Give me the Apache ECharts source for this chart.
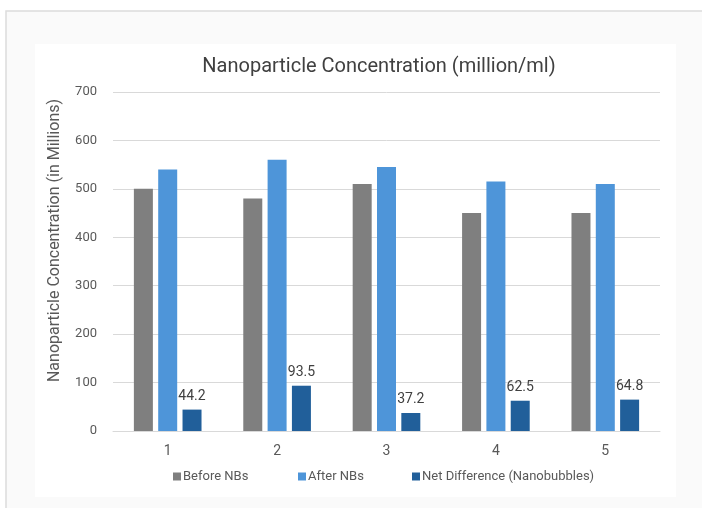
<!DOCTYPE html>
<html>
<head>
<meta charset="utf-8">
<script src="https://cdn.jsdelivr.net/npm/echarts@6/dist/echarts.min.js"></script>
<style>
  html, body { margin: 0; padding: 0; background: #ffffff; }
  #chart { width: 702px; height: 508px; }
</style>
</head>
<body>
<div id="chart"></div>
<script>
// Sample runs and measured concentrations (million/ml)
const categories = ['1', '2', '3', '4', '5'];
const beforeNBs = [500, 480, 510, 450, 450];
const afterNBs = [540, 560, 545, 515, 510];
const netDifference = [44.2, 93.5, 37.2, 62.5, 64.8];
const seriesNames = ['Before NBs', 'After NBs', 'Net Difference (Nanobubbles)'];
const yTicks = { min: 0, max: 700, interval: 100 };

const FONT = 'Roboto, "Liberation Sans", sans-serif';
const colors = ['#7f7f7f', '#4e95d9', '#215f9a'];

const chart = echarts.init(document.getElementById('chart'), null, { renderer: 'canvas' });

function legendFor(name, left) {
  return {
    data: [name],
    left: left,
    top: 465,
    icon: 'rect',
    itemWidth: 8,
    itemHeight: 8,
    itemGap: 0,
    selectedMode: false,
    textStyle: { color: '#595959', fontSize: 13, fontFamily: FONT, padding: [0, 0, 0, -3] }
  };
}

chart.setOption({
  animation: false,
  backgroundColor: '#ffffff',
  color: colors,
  graphic: [
    // outer frame and inner chart panel
    { type: 'rect', z: -10, silent: true, shape: { x: 6, y: 11, width: 720, height: 520 },
      style: { fill: '#fafafa', stroke: '#dcdcdc', lineWidth: 1.5 } },
    { type: 'rect', z: -9, silent: true, shape: { x: 35, y: 44, width: 641, height: 453 },
      style: { fill: '#ffffff' } }
  ],
  title: {
    text: 'Nanoparticle Concentration (million/ml)',
    left: 374,
    top: 52,
    textAlign: 'center',
    textStyle: { color: '#404040', fontSize: 20, fontWeight: 'normal', fontFamily: FONT }
  },
  legend: [
    legendFor(seriesNames[0], 168),
    legendFor(seriesNames[1], 293),
    legendFor(seriesNames[2], 407)
  ],
  grid: { left: 113, right: 42, top: 92, bottom: 77, containLabel: false },
  xAxis: {
    type: 'category',
    data: categories,
    axisLine: { lineStyle: { color: '#d9d9d9', width: 1 } },
    axisTick: { show: false },
    axisLabel: { color: '#595959', fontSize: 14, fontFamily: FONT, margin: 13 }
  },
  yAxis: {
    type: 'value',
    min: yTicks.min,
    max: yTicks.max,
    interval: yTicks.interval,
    name: 'Nanoparticle Concentration (in Millions)',
    nameLocation: 'middle',
    nameRotate: 90,
    nameGap: 50,
    nameTextStyle: { color: '#595959', fontSize: 16, fontFamily: FONT, padding: [0, 0, 0, 42] },
    axisLine: { show: false },
    axisTick: { show: false },
    splitLine: { lineStyle: { color: '#d9d9d9', width: 1 } },
    axisLabel: { color: '#595959', fontSize: 13, fontFamily: FONT, margin: 16 }
  },
  series: [
    { name: seriesNames[0], type: 'bar', data: beforeNBs, barWidth: 19, barGap: '28%', barCategoryGap: '38%' },
    { name: seriesNames[1], type: 'bar', data: afterNBs, barWidth: 19, barGap: '28%' },
    { name: seriesNames[2], type: 'bar', data: netDifference, barWidth: 19, barGap: '28%',
      label: { show: true, position: 'top', distance: 6, color: '#404040', fontSize: 14, fontFamily: FONT } }
  ]
});
</script>
</body>
</html>
